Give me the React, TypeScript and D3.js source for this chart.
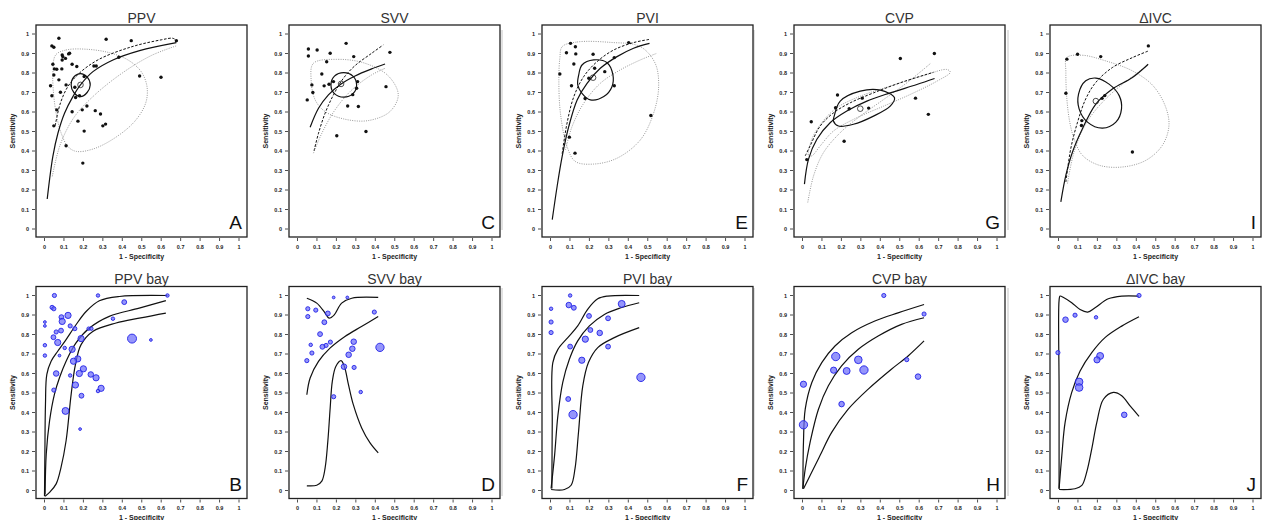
import React from "react";
import * as d3 from "d3";

type Pt = [number, number];
type Study = [number, number, number]; // 1-specificity, sensitivity, study weight

const tickValues = [0, 0.1, 0.2, 0.3, 0.4, 0.5, 0.6, 0.7, 0.8, 0.9, 1];

// ---------- PPV (A) ----------
const ppvStudies: Pt[] = [
  [0.074, 0.978], [0.038, 0.939], [0.048, 0.932], [0.091, 0.892], [0.094, 0.884], [0.124, 0.898],
  [0.129, 0.901], [0.108, 0.875], [0.091, 0.867], [0.043, 0.845], [0.142, 0.845], [0.166, 0.833],
  [0.051, 0.821], [0.063, 0.819], [0.089, 0.821], [0.048, 0.79], [0.074, 0.765], [0.111, 0.739],
  [0.031, 0.735], [0.156, 0.727], [0.204, 0.782], [0.082, 0.701], [0.038, 0.683], [0.18, 0.683],
  [0.16, 0.674], [0.063, 0.611], [0.142, 0.601], [0.194, 0.611], [0.218, 0.631], [0.261, 0.607],
  [0.288, 0.59], [0.172, 0.553], [0.048, 0.529], [0.204, 0.502], [0.3, 0.529], [0.314, 0.538],
  [0.111, 0.427], [0.197, 0.338], [0.317, 0.973], [0.446, 0.966], [0.382, 0.881], [0.489, 0.785],
  [0.599, 0.778], [0.678, 0.966], [0.254, 0.836], [0.266, 0.836],
];
const ppvSummary: Pt = [0.185, 0.739];
const ppvSroc: Pt[] = [
  [0.014, 0.154], [0.043, 0.372], [0.069, 0.491], [0.103, 0.594], [0.146, 0.679], [0.185, 0.739],
  [0.249, 0.807], [0.352, 0.867], [0.489, 0.915], [0.678, 0.956],
];
const ppvDashed: Pt[] = [
  [0.055, 0.53], [0.08, 0.64], [0.12, 0.73], [0.18, 0.8], [0.28, 0.87], [0.45, 0.935], [0.6, 0.97],
  [0.66, 0.978], [0.68, 0.965],
];
const ppvDotted: Pt[] = [
  [0.04, 0.27], [0.08, 0.43], [0.15, 0.57], [0.25, 0.68], [0.4, 0.8], [0.55, 0.89], [0.68, 0.94],
];
const ppvConf: Pt[] = [
  [0.137, 0.739], [0.151, 0.78], [0.185, 0.797], [0.219, 0.78], [0.235, 0.739], [0.219, 0.7],
  [0.185, 0.679], [0.151, 0.7],
];
const ppvPred: Pt[] = [
  [0.057, 0.892], [0.111, 0.918], [0.214, 0.922], [0.334, 0.904], [0.429, 0.867], [0.497, 0.807],
  [0.527, 0.73], [0.52, 0.645], [0.463, 0.551], [0.36, 0.466], [0.249, 0.41], [0.163, 0.398],
  [0.12, 0.423], [0.086, 0.491], [0.063, 0.577], [0.048, 0.679], [0.043, 0.799],
];

// ---------- SVV (C) ----------
const svvStudies: Pt[] = [
  [0.056, 0.923], [0.056, 0.887], [0.101, 0.918], [0.168, 0.901], [0.25, 0.952], [0.15, 0.858],
  [0.289, 0.884], [0.475, 0.906], [0.125, 0.795], [0.185, 0.756], [0.162, 0.742], [0.074, 0.739],
  [0.137, 0.734], [0.079, 0.7], [0.309, 0.756], [0.304, 0.722], [0.284, 0.689], [0.455, 0.73],
  [0.05, 0.662], [0.258, 0.631], [0.313, 0.628], [0.352, 0.5], [0.202, 0.478],
];
const svvSummary: Pt = [0.224, 0.744];
const svvSroc: Pt[] = [
  [0.065, 0.522], [0.108, 0.619], [0.159, 0.688], [0.224, 0.744], [0.296, 0.785], [0.381, 0.821],
  [0.45, 0.846],
];
const svvDashed: Pt[] = [
  [0.085, 0.401], [0.108, 0.491], [0.142, 0.594], [0.185, 0.688], [0.236, 0.773], [0.296, 0.838],
  [0.381, 0.901], [0.441, 0.944],
];
const svvDotted: Pt[] = [
  [0.082, 0.389], [0.125, 0.491], [0.193, 0.611], [0.279, 0.713], [0.381, 0.79], [0.45, 0.824],
];
const svvConf: Pt[] = [
  [0.172, 0.739], [0.19, 0.784], [0.238, 0.802], [0.285, 0.784], [0.304, 0.739], [0.285, 0.694],
  [0.238, 0.676], [0.19, 0.694],
];
const svvPred: Pt[] = [
  [0.082, 0.85], [0.21, 0.87], [0.347, 0.85], [0.467, 0.785], [0.518, 0.688], [0.475, 0.602],
  [0.364, 0.556], [0.244, 0.563], [0.142, 0.602], [0.091, 0.662], [0.07, 0.765],
];

// ---------- PVI (E) ----------
const pviStudies: Pt[] = [
  [0.103, 0.952], [0.082, 0.904], [0.128, 0.935], [0.13, 0.898], [0.219, 0.896], [0.402, 0.956],
  [0.12, 0.846], [0.328, 0.879], [0.048, 0.795], [0.227, 0.824], [0.279, 0.807], [0.197, 0.773],
  [0.108, 0.735], [0.328, 0.735], [0.178, 0.669], [0.516, 0.582], [0.097, 0.471], [0.126, 0.389],
];
const pviSummary: Pt = [0.219, 0.776];
const pviSroc: Pt[] = [
  [0.009, 0.048], [0.034, 0.218], [0.06, 0.372], [0.094, 0.526], [0.137, 0.662], [0.188, 0.747],
  [0.256, 0.824], [0.342, 0.884], [0.427, 0.927], [0.509, 0.952],
];
const pviDashed: Pt[] = [
  [0.06, 0.386], [0.085, 0.543], [0.12, 0.679], [0.171, 0.782], [0.239, 0.858], [0.325, 0.918],
  [0.427, 0.956], [0.513, 0.973],
];
const pviDotted: Pt[] = [
  [0.077, 0.406], [0.111, 0.526], [0.171, 0.645], [0.256, 0.747], [0.359, 0.816], [0.462, 0.867],
  [0.547, 0.901],
];
const pviConf: Pt[] = [
  [0.145, 0.79], [0.162, 0.841], [0.222, 0.867], [0.291, 0.853], [0.321, 0.79], [0.316, 0.73],
  [0.274, 0.679], [0.205, 0.662], [0.162, 0.696], [0.14, 0.739],
];
const pviPred: Pt[] = [
  [0.06, 0.935], [0.137, 0.959], [0.308, 0.957], [0.462, 0.935], [0.538, 0.85], [0.556, 0.73],
  [0.53, 0.594], [0.462, 0.457], [0.342, 0.363], [0.222, 0.333], [0.128, 0.346], [0.085, 0.423],
  [0.051, 0.594], [0.043, 0.765], [0.048, 0.875],
];

// ---------- CVP (G) ----------
const cvpStudies: Pt[] = [
  [0.678, 0.9], [0.503, 0.874], [0.18, 0.687], [0.307, 0.671], [0.17, 0.622], [0.24, 0.617],
  [0.34, 0.62], [0.581, 0.671], [0.647, 0.588], [0.045, 0.55], [0.214, 0.45], [0.022, 0.356],
];
const cvpSummary: Pt = [0.297, 0.617];
const cvpSroc: Pt[] = [
  [0.01, 0.23], [0.031, 0.358], [0.074, 0.46], [0.142, 0.545], [0.228, 0.605], [0.331, 0.656],
  [0.451, 0.698], [0.588, 0.741], [0.679, 0.772],
];
const cvpDashed: Pt[] = [
  [0.014, 0.375], [0.039, 0.426], [0.091, 0.528], [0.16, 0.596], [0.245, 0.647], [0.365, 0.698],
  [0.503, 0.75], [0.674, 0.804],
];
const cvpDotted: Pt[] = [
  [0.027, 0.136], [0.057, 0.273], [0.108, 0.392], [0.194, 0.494], [0.297, 0.579], [0.417, 0.664],
  [0.537, 0.75], [0.657, 0.848],
];
const cvpConf: Pt[] = [
  [0.163, 0.579], [0.194, 0.656], [0.297, 0.707], [0.4, 0.712], [0.473, 0.673], [0.451, 0.63],
  [0.365, 0.579], [0.262, 0.537], [0.185, 0.528], [0.159, 0.554],
];
const cvpPred: Pt[] = [
  [0.031, 0.375], [0.048, 0.46], [0.099, 0.545], [0.177, 0.622], [0.297, 0.681], [0.451, 0.733],
  [0.623, 0.787], [0.743, 0.818], [0.76, 0.804], [0.691, 0.758], [0.554, 0.69], [0.417, 0.63],
  [0.28, 0.571], [0.16, 0.503], [0.091, 0.426], [0.048, 0.375],
];

// ---------- ΔIVC (I) ----------
const ivcStudies: Pt[] = [
  [0.043, 0.871], [0.098, 0.896], [0.217, 0.884], [0.462, 0.939], [0.038, 0.696], [0.224, 0.67],
  [0.238, 0.684], [0.12, 0.556], [0.118, 0.531], [0.38, 0.395],
];
const ivcSummary: Pt = [0.192, 0.656];
const ivcSroc: Pt[] = [
  [0.012, 0.139], [0.038, 0.276], [0.072, 0.395], [0.123, 0.514], [0.192, 0.641], [0.277, 0.718],
  [0.38, 0.777], [0.461, 0.845],
];
const ivcDashed: Pt[] = [
  [0.038, 0.241], [0.063, 0.412], [0.098, 0.548], [0.14, 0.667], [0.192, 0.752], [0.277, 0.828],
  [0.38, 0.879], [0.462, 0.913],
];
const ivcDotted: Pt[] = [
  [0.046, 0.233], [0.08, 0.395], [0.14, 0.539], [0.226, 0.65], [0.329, 0.743], [0.457, 0.837],
];
const ivcConf: Pt[] = [
  [0.103, 0.692], [0.14, 0.76], [0.192, 0.774], [0.26, 0.743], [0.312, 0.684], [0.324, 0.616],
  [0.295, 0.548], [0.226, 0.517], [0.149, 0.548], [0.106, 0.616],
];
const ivcPred: Pt[] = [
  [0.043, 0.879], [0.123, 0.891], [0.243, 0.862], [0.38, 0.811], [0.483, 0.738], [0.548, 0.633],
  [0.568, 0.531], [0.534, 0.429], [0.449, 0.352], [0.329, 0.318], [0.209, 0.327], [0.123, 0.378],
  [0.08, 0.463], [0.058, 0.548], [0.043, 0.667], [0.038, 0.803],
];

// ---------- PPV bay (B) ----------
const ppvBayStudies: Study[] = [
  [0.051, 1.0, 36], [0.275, 1.0, 25], [0.632, 1.0, 25], [0.41, 0.966, 49], [0.039, 0.939, 36],
  [0.048, 0.932, 36], [0.121, 0.898, 81], [0.087, 0.889, 49], [0.091, 0.867, 81], [0.002, 0.864, 16],
  [0.002, 0.844, 16], [0.132, 0.844, 36], [0.085, 0.82, 49], [0.06, 0.813, 36], [0.156, 0.83, 36],
  [0.227, 0.83, 25], [0.241, 0.83, 25], [0.352, 0.881, 25], [0.046, 0.786, 49], [0.188, 0.779, 81],
  [0.45, 0.779, 169], [0.547, 0.772, 16], [0.068, 0.759, 81], [0.002, 0.745, 25], [0.104, 0.731, 25],
  [0.142, 0.724, 81], [0.002, 0.692, 25], [0.077, 0.692, 16], [0.171, 0.675, 81], [0.149, 0.663, 81],
  [0.2, 0.624, 81], [0.06, 0.6, 64], [0.179, 0.6, 81], [0.132, 0.59, 25], [0.238, 0.595, 64],
  [0.265, 0.578, 81], [0.159, 0.541, 81], [0.048, 0.515, 36], [0.291, 0.524, 81], [0.275, 0.51, 25],
  [0.19, 0.486, 49], [0.108, 0.408, 100], [0.183, 0.315, 16],
];
const ppvBayUpper: Pt[] = [
  [0.0, -0.03], [0.002, 0.187], [0.005, 0.442], [0.012, 0.595], [0.034, 0.663], [0.068, 0.714],
  [0.111, 0.774], [0.162, 0.85], [0.214, 0.918], [0.282, 0.973], [0.385, 0.995], [0.632, 1.0],
];
const ppvBayMid: Pt[] = [
  [0.003, -0.02], [0.009, 0.187], [0.026, 0.357], [0.051, 0.493], [0.077, 0.578], [0.111, 0.663],
  [0.162, 0.757], [0.231, 0.833], [0.333, 0.893], [0.487, 0.935], [0.624, 0.974],
];
const ppvBayLower: Pt[] = [
  [0.003, -0.03], [0.026, -0.01], [0.06, 0.034], [0.085, 0.119], [0.111, 0.255], [0.137, 0.493],
  [0.159, 0.646], [0.188, 0.748], [0.248, 0.816], [0.368, 0.859], [0.487, 0.884], [0.624, 0.91],
];

// ---------- SVV bay (D) ----------
const svvBayStudies: Study[] = [
  [0.186, 0.99, 16], [0.256, 0.99, 16], [0.053, 0.932, 36], [0.053, 0.892, 36], [0.094, 0.925, 36],
  [0.156, 0.908, 49], [0.395, 0.915, 36], [0.138, 0.863, 49], [0.116, 0.802, 49], [0.068, 0.747, 25],
  [0.147, 0.744, 36], [0.169, 0.761, 36], [0.128, 0.737, 49], [0.074, 0.705, 36], [0.289, 0.763, 64],
  [0.282, 0.727, 64], [0.263, 0.696, 64], [0.424, 0.734, 144], [0.048, 0.666, 36], [0.239, 0.635, 64],
  [0.291, 0.631, 36], [0.325, 0.505, 25], [0.186, 0.481, 36],
];
const svvBayUpper: Pt[] = [
  [0.048, 0.986], [0.099, 0.961], [0.142, 0.91], [0.162, 0.884], [0.189, 0.901], [0.227, 0.961],
  [0.279, 0.986], [0.415, 0.99],
];
const svvBayMid: Pt[] = [
  [0.048, 0.491], [0.065, 0.577], [0.108, 0.662], [0.167, 0.73], [0.244, 0.79], [0.329, 0.841],
  [0.415, 0.892],
];
const svvBayLower: Pt[] = [
  [0.048, 0.024], [0.099, 0.027], [0.125, 0.048], [0.142, 0.116], [0.156, 0.253], [0.168, 0.423],
  [0.179, 0.56], [0.197, 0.636], [0.224, 0.666], [0.241, 0.636], [0.262, 0.543], [0.287, 0.44],
  [0.33, 0.321], [0.373, 0.244], [0.415, 0.193],
];

// ---------- PVI bay (F) ----------
const pviBayStudies: Study[] = [
  [0.101, 1.0, 25], [0.003, 0.932, 25], [0.094, 0.951, 64], [0.12, 0.937, 49], [0.366, 0.957, 100],
  [0.003, 0.864, 36], [0.198, 0.895, 49], [0.296, 0.883, 49], [0.003, 0.81, 36], [0.205, 0.823, 49],
  [0.253, 0.808, 64], [0.179, 0.776, 81], [0.101, 0.738, 49], [0.296, 0.738, 49], [0.161, 0.668, 81],
  [0.465, 0.58, 144], [0.091, 0.469, 49], [0.116, 0.389, 144],
];
const pviBayUpper: Pt[] = [
  [0.007, 0.01], [0.009, 0.35], [0.012, 0.656], [0.038, 0.724], [0.089, 0.784], [0.14, 0.844],
  [0.191, 0.929], [0.243, 0.983], [0.294, 0.997], [0.456, 1.0],
];
const pviBayMid: Pt[] = [
  [0.003, 0.01], [0.021, 0.18], [0.038, 0.384], [0.063, 0.554], [0.097, 0.673], [0.14, 0.767],
  [0.2, 0.844], [0.277, 0.903], [0.362, 0.937], [0.456, 0.963],
];
const pviBayLower: Pt[] = [
  [0.003, 0.005], [0.072, 0.005], [0.106, 0.027], [0.126, 0.112], [0.144, 0.299], [0.166, 0.537],
  [0.195, 0.656], [0.243, 0.733], [0.328, 0.784], [0.456, 0.835],
];

// ---------- CVP bay (H) ----------
const cvpBayStudies: Study[] = [
  [0.418, 1.0, 36], [0.625, 0.905, 36], [0.171, 0.687, 144], [0.287, 0.67, 121], [0.536, 0.671, 36],
  [0.16, 0.617, 81], [0.227, 0.613, 100], [0.316, 0.618, 144], [0.594, 0.584, 64], [0.005, 0.545, 81],
  [0.201, 0.443, 64], [0.005, 0.337, 144],
];
const cvpBayUpper: Pt[] = [
  [0.002, 0.009], [0.005, 0.247], [0.014, 0.417], [0.048, 0.554], [0.099, 0.656], [0.167, 0.741],
  [0.253, 0.809], [0.372, 0.869], [0.491, 0.911], [0.625, 0.954],
];
const cvpBayMid: Pt[] = [
  [0.002, 0.009], [0.014, 0.111], [0.039, 0.247], [0.082, 0.417], [0.133, 0.537], [0.201, 0.639],
  [0.287, 0.724], [0.389, 0.792], [0.509, 0.852], [0.625, 0.886],
];
const cvpBayLower: Pt[] = [
  [0.005, 0.009], [0.039, 0.077], [0.09, 0.179], [0.15, 0.298], [0.235, 0.417], [0.338, 0.52],
  [0.457, 0.622], [0.543, 0.69], [0.625, 0.767],
];

// ---------- ΔIVC bay (J) ----------
const ivcBayStudies: Study[] = [
  [0.414, 1.0, 36], [0.085, 0.899, 36], [0.193, 0.888, 25], [0.036, 0.876, 64], [-0.003, 0.707, 36],
  [0.214, 0.69, 100], [0.198, 0.67, 81], [0.106, 0.557, 121], [0.106, 0.528, 121], [0.338, 0.388, 64],
];
const ivcBayUpper: Pt[] = [
  [0.003, 0.009], [0.003, 0.52], [0.003, 0.975], [0.008, 0.997], [0.026, 0.99], [0.068, 0.963],
  [0.111, 0.928], [0.15, 0.915], [0.188, 0.937], [0.256, 0.983], [0.325, 0.997], [0.414, 0.997],
];
const ivcBayMid: Pt[] = [
  [0.003, 0.009], [0.017, 0.179], [0.034, 0.349], [0.068, 0.503], [0.111, 0.613], [0.171, 0.707],
  [0.239, 0.784], [0.325, 0.843], [0.414, 0.891],
];
const ivcBayLower: Pt[] = [
  [0.003, 0.005], [0.085, 0.009], [0.12, 0.026], [0.145, 0.094], [0.171, 0.213], [0.197, 0.349],
  [0.231, 0.468], [0.282, 0.503], [0.325, 0.486], [0.368, 0.434], [0.414, 0.38],
];

// ---------- layout ----------
const FONT = "'Liberation Sans', Arial, Helvetica, sans-serif";
const BOX_W = 211;
const BOX_H = 212;
const colLeft = [36, 289, 542, 794, 1050];
const rowTop = [25, 286.5];

type FreqPanel = {
  kind: "freq"; title: string; letter: string; col: number; row: number;
  studies: Pt[]; summary: Pt; sroc: Pt[]; dashed: Pt[]; dotted: Pt[]; conf: Pt[]; pred: Pt[];
};
type BayPanel = {
  kind: "bay"; title: string; letter: string; col: number; row: number;
  studies: Study[]; curves: Pt[][];
};

const panels: (FreqPanel | BayPanel)[] = [
  { kind: "freq", title: "PPV", letter: "A", col: 0, row: 0, studies: ppvStudies, summary: ppvSummary, sroc: ppvSroc, dashed: ppvDashed, dotted: ppvDotted, conf: ppvConf, pred: ppvPred },
  { kind: "freq", title: "SVV", letter: "C", col: 1, row: 0, studies: svvStudies, summary: svvSummary, sroc: svvSroc, dashed: svvDashed, dotted: svvDotted, conf: svvConf, pred: svvPred },
  { kind: "freq", title: "PVI", letter: "E", col: 2, row: 0, studies: pviStudies, summary: pviSummary, sroc: pviSroc, dashed: pviDashed, dotted: pviDotted, conf: pviConf, pred: pviPred },
  { kind: "freq", title: "CVP", letter: "G", col: 3, row: 0, studies: cvpStudies, summary: cvpSummary, sroc: cvpSroc, dashed: cvpDashed, dotted: cvpDotted, conf: cvpConf, pred: cvpPred },
  { kind: "freq", title: "\u0394IVC", letter: "I", col: 4, row: 0, studies: ivcStudies, summary: ivcSummary, sroc: ivcSroc, dashed: ivcDashed, dotted: ivcDotted, conf: ivcConf, pred: ivcPred },
  { kind: "bay", title: "PPV bay", letter: "B", col: 0, row: 1, studies: ppvBayStudies, curves: [ppvBayUpper, ppvBayMid, ppvBayLower] },
  { kind: "bay", title: "SVV bay", letter: "D", col: 1, row: 1, studies: svvBayStudies, curves: [svvBayUpper, svvBayMid, svvBayLower] },
  { kind: "bay", title: "PVI bay", letter: "F", col: 2, row: 1, studies: pviBayStudies, curves: [pviBayUpper, pviBayMid, pviBayLower] },
  { kind: "bay", title: "CVP bay", letter: "H", col: 3, row: 1, studies: cvpBayStudies, curves: [cvpBayUpper, cvpBayMid, cvpBayLower] },
  { kind: "bay", title: "\u0394IVC bay", letter: "J", col: 4, row: 1, studies: ivcBayStudies, curves: [ivcBayUpper, ivcBayMid, ivcBayLower] },
];

const fmt = (t: number) => (t === 0 || t === 1 ? String(t) : t.toFixed(1));
const bubble = d3.scaleSqrt().domain([0, 169]).range([0, 4.5]);

function Panel({ p }: { p: FreqPanel | BayPanel }) {
  const left = colLeft[p.col];
  const top = rowTop[p.row];
  const bottom = top + BOX_H;
  const x = d3.scaleLinear().domain([0, 1]).range([left + 8.5, left + 203]);
  const y = d3.scaleLinear().domain([0, 1]).range([top + 204, top + 9]);
  const open = d3.line<Pt>().x((d) => x(d[0])).y((d) => y(d[1])).curve(d3.curveCatmullRom.alpha(0.5));
  const closed = d3.line<Pt>().x((d) => x(d[0])).y((d) => y(d[1])).curve(d3.curveCatmullRomClosed.alpha(0.5));
  const cx = left + BOX_W / 2;

  return (
    <g>
      {/* title */}
      <text x={cx} y={top - 2.5} textAnchor="middle" fontSize={14} fill="#333" fontFamily={FONT}>
        {p.title}
      </text>
      {/* y axis */}
      {tickValues.map((t) => (
        <g key={"y" + t}>
          <line x1={left - 4} x2={left - 1} y1={y(t)} y2={y(t)} stroke="#222" strokeWidth={0.8} />
          <text x={left - 7} y={y(t) + 2} textAnchor="end" fontSize={5.5} fontWeight="bold" fill="#222" fontFamily={FONT}>
            {fmt(t)}
          </text>
        </g>
      ))}
      {/* x axis */}
      {tickValues.map((t) => (
        <g key={"x" + t}>
          <line x1={x(t)} x2={x(t)} y1={bottom + 1} y2={bottom + 4} stroke="#222" strokeWidth={0.8} />
          <text x={x(t)} y={bottom + 11.5} textAnchor="middle" fontSize={5.5} fontWeight="bold" fill="#222" fontFamily={FONT}>
            {fmt(t)}
          </text>
        </g>
      ))}
      <text x={cx} y={bottom + 21.5} textAnchor="middle" fontSize={7} fontWeight="bold" fill="#222" fontFamily={FONT}>
        1 - Specificity
      </text>
      <text
        transform={`translate(${left - 21},${top + BOX_H / 2}) rotate(-90)`}
        textAnchor="middle" fontSize={7} fontWeight="bold" fill="#222" fontFamily={FONT}
      >
        Sensitivity
      </text>

      {p.kind === "freq" ? (
        <g>
          <path d={closed(p.pred) || ""} fill="none" stroke="#9a9a9a" strokeWidth={1} strokeDasharray="1,1.3" />
          <path d={open(p.dotted) || ""} fill="none" stroke="#9a9a9a" strokeWidth={1} strokeDasharray="1,1.3" />
          <path d={open(p.dashed) || ""} fill="none" stroke="#111" strokeWidth={1} strokeDasharray="2.6,1.6" />
          <path d={open(p.sroc) || ""} fill="none" stroke="#111" strokeWidth={1.2} />
          <path d={closed(p.conf) || ""} fill="none" stroke="#111" strokeWidth={1.2} />
          {p.studies.map((d, i) => (
            <circle key={i} cx={x(d[0])} cy={y(d[1])} r={1.7} fill="#111" />
          ))}
          <circle cx={x(p.summary[0])} cy={y(p.summary[1])} r={2.8} fill="none" stroke="#222" strokeWidth={0.8} />
        </g>
      ) : (
        <g>
          {p.curves.map((c, i) => (
            <path key={i} d={open(c) || ""} fill="none" stroke="#111" strokeWidth={1.2} />
          ))}
          {p.studies.map((d, i) => (
            <circle key={i} cx={x(d[0])} cy={y(d[1])} r={bubble(d[2])} fill="rgba(108,108,250,0.72)" stroke="#2323e6" strokeWidth={0.9} />
          ))}
        </g>
      )}

      {/* box */}
      <rect x={left} y={top} width={BOX_W} height={BOX_H} fill="none" stroke="#222" strokeWidth={1.3} />
      <text x={left + BOX_W - 5} y={bottom - 8} textAnchor="end" fontSize={19} fill="#111" fontFamily={FONT}>
        {p.letter}
      </text>
    </g>
  );
}

export default function App() {
  const seps = [502, 754, 1008];
  return (
    <svg width={1263} height={520} style={{ position: "absolute", left: 0, top: 0, background: "#fff" }}>
      <rect x={0} y={0} width={1263} height={520} fill="#fff" />
      {seps.map((sx) => (
        <g key={sx}>
          <line x1={sx} x2={sx} y1={30} y2={230} stroke="#c4c4c4" strokeWidth={1} />
          <line x1={sx} x2={sx} y1={288} y2={496} stroke="#c4c4c4" strokeWidth={1} />
        </g>
      ))}
      {panels.map((p) => (
        <Panel key={p.letter} p={p} />
      ))}
    </svg>
  );
}
